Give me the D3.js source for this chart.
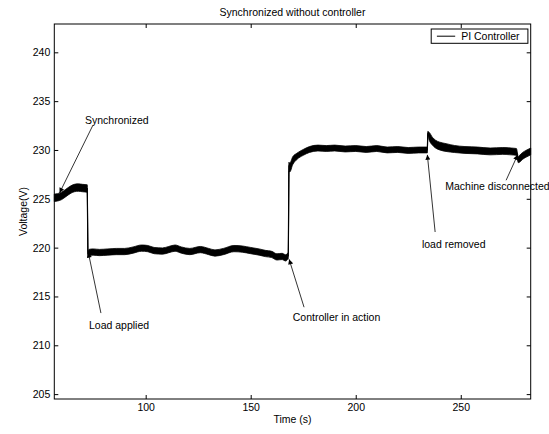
<!DOCTYPE html>
<html>
<head>
<meta charset="utf-8">
<script src="https://cdn.jsdelivr.net/npm/d3@7"></script>
<style>
  body { margin: 0; background: #fff; }
  text { font-family: "Liberation Sans", Arial, Helvetica, sans-serif; fill: #000; }
  .axis text { font-size: 10.5px; }
  .axis line { stroke: #000; }
</style>
</head>
<body>
<div id="chart"></div>
<script>
// Chart values

var chartTitle = "Synchronized without controller";
var xLabel = "Time (s)";
var yLabel = "Voltage(V)";
var legendLabel = "PI Controller";

var xDomain = [56.5, 283.3];
var yDomain = [204.5, 242.9];
var xTicks = [100, 150, 200, 250];
var yTicks = [205, 210, 215, 220, 225, 230, 235, 240];

// time (s), centre of the noisy trace (V), half thickness of the trace (V)
var timeS = [
  56.5, 58, 60, 62, 64, 66, 68, 70, 72.2,
  72.5, 73, 75, 78, 82, 86, 90, 94, 98, 101,
  104, 108, 111, 114, 117, 121, 126, 130, 133, 137,
  142, 146, 150, 154, 157, 160, 162.5, 165, 166.5, 167.9,
  168.2, 168.6, 170,
  172, 175, 178, 182, 186, 190, 195, 200, 205, 210, 215, 220, 225, 230, 234.1,
  234.3, 235, 236.5, 238, 240, 243,
  247, 252, 258, 264, 270, 274, 276.5, 277.4, 278, 279.5, 281, 283.3
];
var voltMid = [
  225.1, 225.15, 225.3, 225.6, 225.9, 226.1, 226.15, 226.1, 226.05,
  219.3, 219.5, 219.55, 219.5, 219.55, 219.6, 219.6, 219.75, 219.95, 219.9,
  219.7, 219.65, 219.8, 219.95, 219.75, 219.6, 219.8, 219.6, 219.45, 219.6,
  219.9, 219.85, 219.7, 219.55, 219.4, 219.3, 219.05, 219.1, 218.95, 219.2,
  228.3, 228.2, 228.9,
  229.35, 229.75, 230.05, 230.2, 230.15, 230.2, 230.1, 230.15, 230.05, 230.15, 230.0, 230.05, 229.95, 230.0, 230.0,
  231.7, 231.4, 230.9, 230.6, 230.4, 230.25,
  230.1, 230.0, 229.95, 229.85, 229.9, 229.85, 229.8, 229.0, 229.1, 229.4, 229.6, 229.85
];
var voltSpread = [
  0.38, 0.38, 0.38, 0.38, 0.38, 0.38, 0.38, 0.38, 0.38,
  0.3, 0.32, 0.32, 0.32, 0.32, 0.32, 0.32, 0.32, 0.32, 0.32,
  0.32, 0.32, 0.32, 0.32, 0.32, 0.32, 0.32, 0.32, 0.32, 0.32,
  0.32, 0.32, 0.32, 0.32, 0.32, 0.32, 0.32, 0.32, 0.32, 0.32,
  0.45, 0.45, 0.4,
  0.32, 0.3, 0.3, 0.3, 0.3, 0.3, 0.3, 0.3, 0.3, 0.3, 0.3, 0.3, 0.3, 0.3, 0.3,
  0.2, 0.4, 0.4, 0.4, 0.4, 0.4,
  0.36, 0.35, 0.35, 0.35, 0.35, 0.35, 0.35, 0.3, 0.35, 0.35, 0.35, 0.35
];

// annotations: label, text anchor point, arrow tail, arrow head (all in data units)
var noteLabels = ["Synchronized", "Load applied", "Controller in action", "load removed", "Machine disconnected"];
var noteTextT = [71.1, 73.0, 170.0, 231.5, 242.6];
var noteTextV = [232.7, 211.7, 212.5, 220.0, 225.9];
var noteTailT = [74.8, 78.7, 175.4, 237.8, 271.6];
var noteTailV = [232.5, 213.3, 213.9, 221.6, 226.9];
var noteHeadT = [59.0, 72.7, 168.3, 234.1, 277.1];
var noteHeadV = [225.6, 219.5, 218.8, 229.5, 229.5];

var width = 549,
    height = 434;

var margin = {top: 24, right: 18.3, bottom: 35, left: 54.3};
var plotW = width - margin.left - margin.right,
    plotH = height - margin.top - margin.bottom;

var svg = d3.select("#chart")
  .append("svg")
  .attr("width", width)
  .attr("height", height);

svg.append("defs")
  .append("marker")
  .attr("id", "head")
  .attr("viewBox", "0 0 10 10")
  .attr("refX", 10)
  .attr("refY", 5)
  .attr("markerWidth", 7)
  .attr("markerHeight", 5)
  .attr("markerUnits", "userSpaceOnUse")
  .attr("orient", "auto")
  .append("path")
  .attr("d", "M0,0L10,5L0,10Z")
  .style("fill", "#000");

var g = svg.append("g")
  .attr("transform", "translate(" + margin.left + "," + margin.top + ")");

var x = d3.scaleLinear().domain(xDomain).range([0, plotW]);
var y = d3.scaleLinear().domain(yDomain).range([plotH, 0]);

// ticks on all four sides, pointing inward
g.append("g")
  .attr("class", "axis")
  .attr("transform", "translate(0," + plotH + ")")
  .call(d3.axisBottom(x).tickValues(xTicks).tickSize(-4).tickSizeOuter(0).tickPadding(5));

g.append("g")
  .attr("class", "axis")
  .call(d3.axisTop(x).tickValues(xTicks).tickSize(-4).tickSizeOuter(0).tickFormat(""));

g.append("g")
  .attr("class", "axis")
  .call(d3.axisLeft(y).tickValues(yTicks).tickSize(-4).tickSizeOuter(0).tickPadding(4));

g.append("g")
  .attr("class", "axis")
  .attr("transform", "translate(" + plotW + ",0)")
  .call(d3.axisRight(y).tickValues(yTicks).tickSize(-4).tickSizeOuter(0).tickFormat(""));

g.selectAll(".axis .domain").remove();

g.append("rect")
  .attr("width", plotW)
  .attr("height", plotH)
  .style("fill", "none")
  .style("stroke", "#000")
  .style("stroke-width", 1);

// the trace
var trace = timeS.map(function(t, i) {
  return {t: t, v: voltMid[i], s: voltSpread[i]};
});

var band = d3.area()
  .x(function(d) { return x(d.t); })
  .y0(function(d) { return y(d.v - d.s); })
  .y1(function(d) { return y(d.v + d.s); })
  .curve(d3.curveMonotoneX);

var mid = d3.line()
  .x(function(d) { return x(d.t); })
  .y(function(d) { return y(d.v); });

g.append("path")
  .datum(trace)
  .attr("d", band)
  .style("fill", "#000")
  .style("stroke", "#000")
  .style("stroke-width", 0.8);

g.append("path")
  .datum(trace)
  .attr("d", mid)
  .style("fill", "none")
  .style("stroke", "#000")
  .style("stroke-width", 1.2);

// annotations
noteLabels.forEach(function(label, i) {
  g.append("line")
    .attr("x1", x(noteTailT[i]))
    .attr("y1", y(noteTailV[i]))
    .attr("x2", x(noteHeadT[i]))
    .attr("y2", y(noteHeadV[i]))
    .style("stroke", "#000")
    .style("stroke-width", 0.8)
    .attr("marker-end", "url(#head)");

  g.append("text")
    .attr("x", x(noteTextT[i]))
    .attr("y", y(noteTextV[i]))
    .style("font-size", "10.5px")
    .text(label);
});

// legend
var legend = g.append("g")
  .attr("transform", "translate(" + (plotW - 99.5) + ",5)");

legend.append("rect")
  .attr("width", 96.7)
  .attr("height", 14.3)
  .style("fill", "#fff")
  .style("stroke", "#000")
  .style("stroke-width", 1);

legend.append("line")
  .attr("x1", 5.7)
  .attr("x2", 24)
  .attr("y1", 7.2)
  .attr("y2", 7.2)
  .style("stroke", "#000")
  .style("stroke-width", 1);

legend.append("text")
  .attr("x", 30)
  .attr("y", 11)
  .style("font-size", "10.5px")
  .text(legendLabel);

// titles
svg.append("text")
  .attr("x", margin.left + plotW / 2)
  .attr("y", 15.5)
  .attr("text-anchor", "middle")
  .style("font-size", "10.5px")
  .text(chartTitle);

svg.append("text")
  .attr("x", margin.left + plotW / 2)
  .attr("y", 423)
  .attr("text-anchor", "middle")
  .style("font-size", "10.5px")
  .text(xLabel);

svg.append("text")
  .attr("transform", "translate(26.5," + (margin.top + plotH / 2) + ")rotate(-90)")
  .attr("text-anchor", "middle")
  .style("font-size", "10.5px")
  .text(yLabel);
</script>
</body>
</html>
